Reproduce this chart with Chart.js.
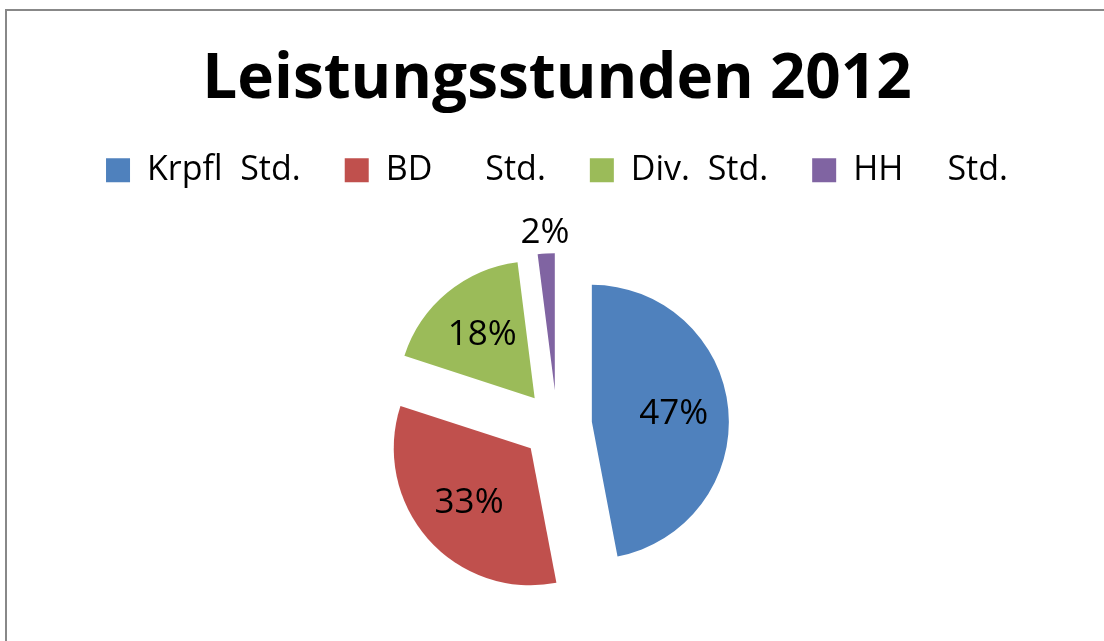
<!DOCTYPE html>
<html>
<head>
<meta charset="utf-8">
<script src="https://cdn.jsdelivr.net/npm/chart.js@4/dist/chart.umd.min.js"></script>
<style>
  html, body { margin: 0; padding: 0; background: #ffffff; overflow: hidden; }
  canvas { display: block; }
</style>
</head>
<body>
<canvas id="c" width="1104" height="641"></canvas>
<script>
// ---- data ----
const chartTitle = 'Leistungsstunden 2012';
const categories = ['Krpfl  Std.', 'BD      Std.', 'Div.  Std.', 'HH     Std.'];
const shares = [47, 33, 18, 2];

// ---- styles ----
const sliceColors = ['#4F81BD', '#C0504D', '#9BBB59', '#8064A2'];
const EXPLODE = 35;
const PIE_RADIUS = 137;
const LEGEND_EXTRA = 31;

// exploded slices: translate each arc along its mid-angle, then let the library draw it
const baseArcDraw = Chart.ArcElement.prototype.draw;
Chart.ArcElement.prototype.draw = function (ctx) {
  const mid = (this.startAngle + this.endAngle) / 2;
  ctx.save();
  ctx.translate(Math.cos(mid) * EXPLODE, Math.sin(mid) * EXPLODE);
  baseArcDraw.call(this, ctx);
  ctx.restore();
};

const legendSpace = {
  id: 'legendSpace',
  beforeInit(chart) {
    const lg = chart.legend;
    if (!lg) return;
    const fit = lg.fit;
    lg.fit = function () {
      fit.call(this);
      this.height += LEGEND_EXTRA;
    };
  }
};

const frame = {
  id: 'frame',
  beforeDraw(chart) {
    const ctx = chart.ctx;
    ctx.save();
    ctx.fillStyle = '#ffffff';
    ctx.fillRect(0, 0, chart.width, chart.height);
    ctx.fillStyle = '#888888';
    ctx.fillRect(5, 9, 2, chart.height - 9);
    ctx.fillRect(5, 9, chart.width - 5, 2);
    ctx.restore();
  }
};

const pctLabels = {
  id: 'pctLabels',
  afterDatasetsDraw(chart) {
    const ctx = chart.ctx;
    const meta = chart.getDatasetMeta(0);
    const data = chart.data.datasets[0].data;
    const total = data.reduce((a, b) => a + b, 0);
    ctx.save();
    ctx.font = '35px "Open Sans"';
    ctx.fillStyle = '#000000';
    ctx.textAlign = 'center';
    ctx.textBaseline = 'middle';
    meta.data.forEach((arc, i) => {
      const p = arc.getProps(['x', 'y', 'startAngle', 'endAngle', 'outerRadius'], true);
      const mid = (p.startAngle + p.endAngle) / 2;
      const pct = data[i] / total * 100;
      const dist = EXPLODE + (pct < 5 ? p.outerRadius + 20 : p.outerRadius * 0.6);
      const x = p.x + Math.cos(mid) * dist;
      const y = p.y + Math.sin(mid) * dist;
      ctx.fillText(Math.round(pct) + '%', x, y);
    });
    ctx.restore();
  }
};

new Chart(document.getElementById('c'), {
  type: 'pie',
  data: {
    labels: categories,
    datasets: [{
      data: shares,
      backgroundColor: sliceColors,
      borderWidth: 0,
      radius: PIE_RADIUS
    }]
  },
  options: {
    responsive: false,
    animation: false,
    layout: { padding: { left: 10, right: 0, top: 0, bottom: 19 } },
    plugins: {
      title: {
        display: true,
        text: chartTitle,
        color: '#000000',
        font: { family: '"Open Sans"', size: 62, weight: 'bold', lineHeight: 0.94 },
        padding: { top: 51, bottom: 0 }
      },
      legend: {
        display: true,
        position: 'top',
        labels: {
          color: '#000000',
          font: { family: '"Open Sans"', size: 34 },
          boxWidth: 24,
          boxHeight: 24,
          padding: 44
        }
      },
      tooltip: { enabled: false }
    }
  },
  plugins: [legendSpace, frame, pctLabels]
});
</script>
</body>
</html>
